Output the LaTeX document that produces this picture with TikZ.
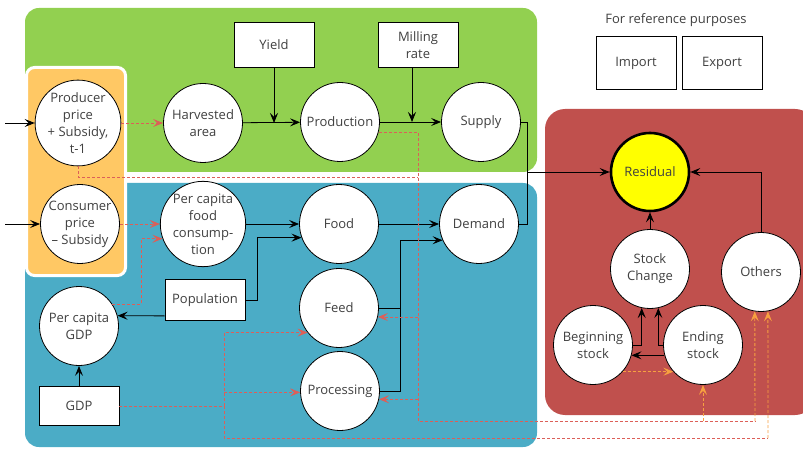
\documentclass[tikz,border=0pt]{standalone}
\usepackage{fontspec}
\setmainfont{Open Sans}
\usetikzlibrary{arrows.meta,calc}
\definecolor{gbox}{HTML}{92D050}
\definecolor{bbox}{HTML}{4BACC6}
\definecolor{obox}{HTML}{FFC864}
\definecolor{rbox}{HTML}{C0504D}
\definecolor{rdashc}{HTML}{DC5F58}
\definecolor{odashc}{HTML}{F7A040}
\definecolor{txt}{HTML}{404040}
\definecolor{ylw}{HTML}{FFFF00}
\begin{document}
\begin{tikzpicture}[x=1pt,y=-1pt,
  every node/.style={font=\fontsize{13}{17}\selectfont, text=txt, align=center},
  circ/.style={circle, draw=black, fill=white, line width=0.8pt, minimum size=79pt, inner sep=0pt},
  rbx/.style={rectangle, draw=black, fill=white, line width=0.8pt, minimum width=80pt, inner sep=0pt},
  tip/.style={-{Stealth[length=10pt,width=8pt,inset=4pt]}},
  arr/.style={tip, draw=black, line width=0.8pt},
  ln/.style={draw=black, line width=0.8pt},
  rd/.style={draw=rdashc, line width=0.9pt, dash pattern=on 3pt off 2pt},
  rda/.style={rd, tip},
  od/.style={draw=odashc, line width=0.9pt, dash pattern=on 3pt off 2pt},
  oda/.style={od, tip}
]
\useasboundingbox (0,0) rectangle (803,449);
% regions
\fill[gbox, rounded corners=14pt] (25,8) rectangle (537,172);
\fill[bbox, rounded corners=14pt] (25,183) rectangle (537,447);
\fill[rbox, rounded corners=20pt] (545,109) rectangle (815,415);
\filldraw[fill=obox, draw=white, line width=3pt, rounded corners=8pt] (26.5,67.5) rectangle (125.5,275.5);

% nodes
\node[circ] (pp) at (78,123) {Producer\\price\\+ Subsidy,\\t-1};
\node[circ] (cp) at (80,224) {Consumer\\price\\– Subsidy};
\node[circ] (ha) at (203,123) {Harvested\\area};
\node[circ] (prod) at (340,122) {Production};
\node[circ] (sup) at (481,122) {Supply};
\node[circ] (pcfc) at (203,224) {Per capita\\food\\consump-\\tion};
\node[circ] (food) at (339,224) {Food};
\node[circ] (dem) at (479,224) {Demand};
\node[circ] (feed) at (339,308) {Feed};
\node[circ] (proc) at (340,391) {Processing};
\node[circ] (pcgdp) at (79,326) {Per capita\\GDP};
\node[circ, fill=ylw, line width=2.6pt, minimum size=78pt] (res) at (650,172) {Residual};
\node[circ] (sc) at (650,269) {Stock\\Change};
\node[circ] (oth) at (761,272) {Others};
\node[circ] (bs) at (593,345) {Beginning\\stock};
\node[circ] (es) at (703,345) {Ending\\stock};

\node[rbx, minimum height=45pt] (yield) at (274,45) {Yield};
\node[rbx, minimum height=45pt] (mill) at (418,45) {Milling\\rate};
\node[rbx, minimum height=53pt] (imp) at (636,63) {Import};
\node[rbx, minimum height=53pt] (exp) at (722,63) {Export};
\node[rbx, minimum height=41pt] (pop) at (205,300) {Population};
\node[rbx, minimum height=39pt] (gdp) at (79,406) {GDP};
\node (ref) at (676,20) {For reference purposes};

% solid connectors
\coordinate (inP) at (5,123);
\coordinate (inC) at (5,224);
\draw[arr] (inP) -- (pp.west);
\draw[arr] (inC) -- (cp.west);
\draw[arr] (ha) -- (prod);
\draw[arr] (yield.south) -- (yield.south |- ha.east);
\draw[arr] (prod) -- (sup);
\draw[arr] ([xshift=-6pt]mill.south) -- ([xshift=-6pt]mill.south |- prod.east);
\coordinate (j1) at (527,172);
\draw[ln] (sup.east) -| (j1);
\draw[ln] (dem.east) -| (j1);
\draw[arr] (j1) -- (res.west);
\draw[arr] (pcfc) -- (food);
\draw[arr] (pop.east) -- ++(12,0) |- (food.200);
\draw[arr] ([yshift=5pt]pop.south west) -- (pcgdp.15);
\draw[arr] (gdp) -- (pcgdp);
\draw[arr] (food) -- (dem);
\coordinate (j2) at (400,308);
\draw[arr] (feed.east) -- (j2) |- (dem.204);
\draw[ln] (proc.east) -| (j2);
\draw[arr] (sc) -- (res);
\draw[arr] (oth.north) |- (res.east);
\draw[arr] (bs.east) -| (sc.258);
\draw[arr] (es.west) -| (sc.282);
\draw[arr] (es.195) -- (bs.345);

% dashed connectors
\draw[rda] (pp.east) -- (ha.west);
\draw[rda] (cp.east) -- (pcfc.west);
\draw[rda] (pcgdp.33) -- ++(29,0) |- (pcfc.200);
\coordinate (v1) at (418,177);
\coordinate (b1) at (418,421);
\draw[rd] (pp.south) |- (v1);
\coordinate (o1) at (755,421);
\coordinate (e1) at (703,421);
\draw[rd] (prod.345) -| (b1) -- (o1);
\draw[oda] (o1) -- (oth.261);
\draw[oda] (e1) -- (es.south);
\draw[rda] (feed.347 -| b1) -- (feed.347);
\draw[rda] (proc.348 -| b1) -- (proc.348);
\coordinate (g1) at (224,406);
\coordinate (g2) at (224,438);
\coordinate (o2) at (768,438);
\draw[rd] (gdp.east) -- (g1);
\draw[rda] (g1) |- (feed.218);
\draw[rda] (g1 |- proc.182) -- (proc.182);
\draw[rd] (g1) -- (g2) -- (o2);
\draw[oda] (o2) -- (oth.280);
\draw[oda] (bs.318) -- (es.222);
\end{tikzpicture}
\end{document}
